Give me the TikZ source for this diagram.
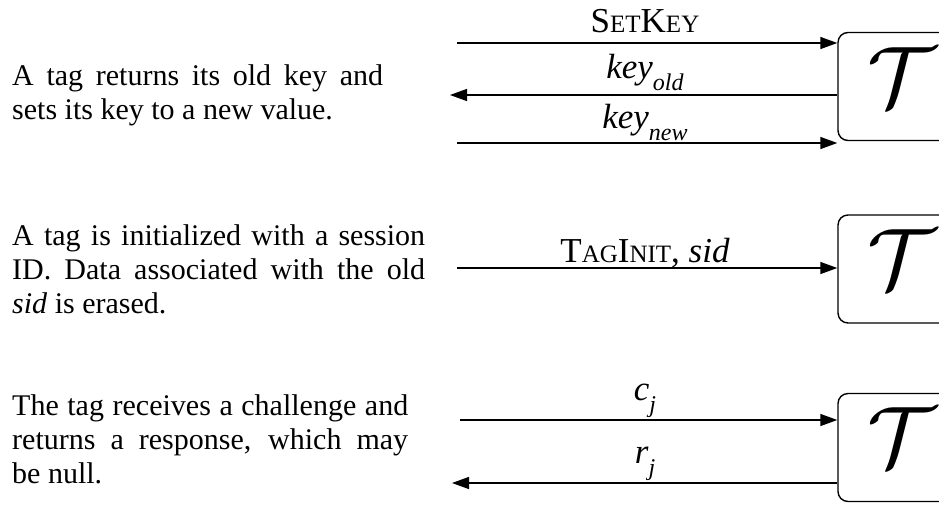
\RequirePackage{fix-cm}
\documentclass[tikz,border=0pt]{standalone}
\usepackage{fontspec}
\setmainfont{Liberation Serif}
\usetikzlibrary{arrows.meta}

% fake small caps and lowered italic subscripts
\newcommand{\fsc}[1]{{\fontsize{25}{25}\selectfont #1}}
\newcommand{\lsub}[1]{\raisebox{-12pt}{\fontsize{24}{24}\selectfont\textit{#1}}}

\tikzset{
  msg/.style={line width=1.4pt, -{Triangle[length=17pt,width=12pt]}},
  tagbox/.style={draw, line width=1.4pt, rounded corners=10pt,
    minimum width=150pt, minimum height=108pt},
  tagsym/.style={inner sep=0pt, font=\fontsize{86}{86}\selectfont},
  lbl/.style={inner sep=0pt, anchor=base, font=\fontsize{35}{40}\selectfont},
  desc/.style={inner sep=0pt, anchor=base west, text width=#1, align=justify,
    font=\fontsize{30}{34}\selectfont},
  desc/.default=380pt
}

\begin{document}
\begin{tikzpicture}[x=1pt,y=-1pt]
  \clip (0,0) rectangle (939,504);

  % SetKey
  \node[desc=371pt] (txt1) at (12,85)
    {A tag returns its old key and\linebreak sets its key to a new value.};
  \node[tagbox] (tag1) at (913,86.5) {};
  \node[tagsym] (sym1) at (902,77) {$\mathcal{T}$};
  \coordinate (in1) at (457,43);
  \coordinate (out1) at (450,95);
  \coordinate (in1b) at (457,143);
  \draw[msg] (in1) -- (in1 -| tag1.west);
  \draw[msg] (tag1.west |- out1) -- (out1);
  \draw[msg] (in1b) -- (in1b -| tag1.west);
  \node[lbl] (setkey) at (645,32) {S\fsc{ET}K\fsc{EY}};
  \node[lbl] (keyold) at (645,78) {\textit{key}\lsub{old}};
  \node[lbl] (keynew) at (645,128) {\textit{key}\lsub{new}};

  % TagInit
  \node[desc=413pt] (txt2) at (12,245)
    {A tag is initialized with a session\linebreak ID. Data associated with the old\linebreak \textit{sid} is erased.};
  \node[tagbox] (tag2) at (913,269) {};
  \node[tagsym] (sym2) at (902,259) {$\mathcal{T}$};
  \coordinate (in2) at (457,268);
  \draw[msg] (in2) -- (in2 -| tag2.west);
  \node[lbl] (taginit) at (645,262) {T\fsc{AG}I\fsc{NIT}, \textit{sid}};

  % challenge / response
  \node[desc=396pt] (txt3) at (12,415)
    {The tag receives a challenge and\linebreak returns a response, which may\linebreak be null.};
  \node[tagbox] (tag3) at (913,447.5) {};
  \node[tagsym] (sym3) at (902,437) {$\mathcal{T}$};
  \coordinate (in3) at (460,420);
  \coordinate (out3) at (452,483);
  \draw[msg] (in3) -- (in3 -| tag3.west);
  \draw[msg] (tag3.west |- out3) -- (out3);
  \node[lbl] (cj) at (645,400) {\textit{c}\lsub{j}};
  \node[lbl] (rj) at (645,463) {\textit{r}\lsub{j}};
\end{tikzpicture}
\end{document}
